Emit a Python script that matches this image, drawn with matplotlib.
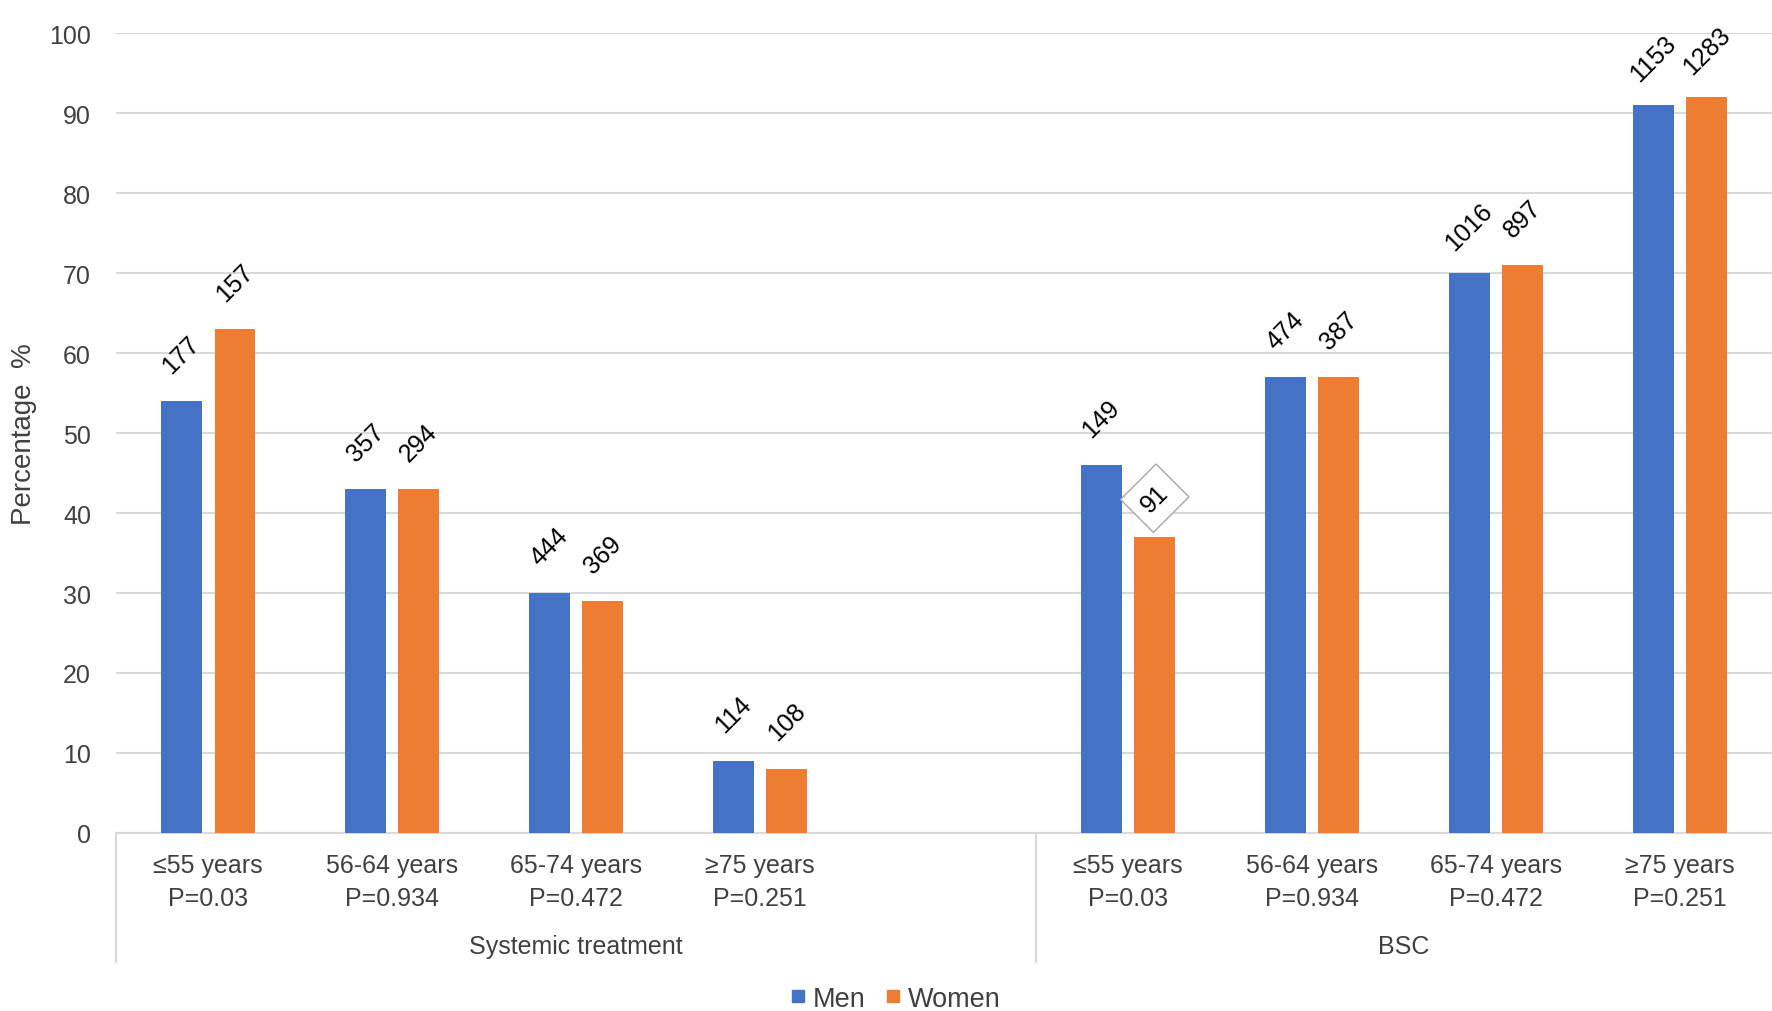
import matplotlib.pyplot as plt
from matplotlib.lines import Line2D
from matplotlib.transforms import blended_transform_factory

plt.rcParams['font.family'] = ['Liberation Sans', 'DejaVu Sans']

# data
age_groups = ["≤55 years", "56-64 years", "65-74 years", "≥75 years"]
p_values = ["P=0.03", "P=0.934", "P=0.472", "P=0.251"]
treatments = ["Systemic treatment", "BSC"]

systemic_men = [54, 43, 30, 9]
systemic_women = [63, 43, 29, 8]
systemic_men_n = [177, 357, 444, 114]
systemic_women_n = [157, 294, 369, 108]

bsc_men = [46, 57, 70, 91]
bsc_women = [37, 57, 71, 92]
bsc_men_n = [149, 474, 1016, 1153]
bsc_women_n = [91, 387, 897, 1283]

blue = "#4472C4"
orange = "#ED7D31"
grid = "#d9d9d9"
txt = "#404040"

fig = plt.figure(figsize=(17.72, 10.12), dpi=100)
ax = fig.add_axes([0.0655, 0.176, 0.9345, 0.790])

# slot positions: 4 systemic, one empty slot, 4 BSC
pos_sys = [0, 1, 2, 3]
pos_bsc = [5, 6, 7, 8]
w = 0.22
off = 0.145

men_vals = systemic_men + bsc_men
women_vals = systemic_women + bsc_women
men_n = systemic_men_n + bsc_men_n
women_n = systemic_women_n + bsc_women_n
positions = pos_sys + pos_bsc

ax.bar([p - off for p in positions], men_vals, width=w, color=blue, zorder=3)
ax.bar([p + off for p in positions], women_vals, width=w, color=orange, zorder=3)

for i, p in enumerate(positions):
    ax.annotate(str(men_n[i]), (p - off, men_vals[i]), xytext=(0, 34),
                textcoords="offset points", rotation=45, ha="center", va="center",
                fontsize=18, color="black")
    if women_n[i] == 91:
        ax.annotate(str(women_n[i]), (p + off, women_vals[i]), xytext=(0, 28),
                    textcoords="offset points", rotation=45, ha="center", va="center",
                    fontsize=18, color="black",
                    bbox=dict(boxstyle="square,pad=0.45", fc="white", ec="#a6a6a6", lw=1))
    else:
        ax.annotate(str(women_n[i]), (p + off, women_vals[i]), xytext=(0, 34),
                    textcoords="offset points", rotation=45, ha="center", va="center",
                    fontsize=18, color="black")

ax.set_xlim(-0.5, 8.5)
ax.set_ylim(0, 100)
ax.set_yticks(range(0, 101, 10))
ax.tick_params(axis="y", length=0, labelsize=18, labelcolor=txt, pad=18)
ax.set_xticks([])
ax.grid(axis="y", color=grid, lw=1.5, zorder=0)
for s in ["top", "right", "left"]:
    ax.spines[s].set_visible(False)
ax.spines["bottom"].set_color(grid)
ax.spines["bottom"].set_linewidth(1.5)

ax.set_ylabel("Percentage  %", fontsize=20, color=txt, labelpad=9)

tr = blended_transform_factory(ax.transData, ax.transAxes)
for i, p in enumerate(positions):
    k = i % 4
    ax.text(p, -0.061, age_groups[k] + "\n" + p_values[k], transform=tr,
            ha="center", va="center", fontsize=18, color=txt, linespacing=1.45)

ax.text(2, -0.141, treatments[0], transform=tr, ha="center", va="center",
        fontsize=18, color=txt)
ax.text(6.5, -0.141, treatments[1], transform=tr, ha="center", va="center",
        fontsize=18, color=txt)

for xv in [-0.5, 4.5]:
    ax.plot([xv, xv], [0, -0.161], transform=tr, color=grid, lw=1.5, clip_on=False)

handles = [Line2D([], [], marker="s", ls="", color=blue, markersize=9),
           Line2D([], [], marker="s", ls="", color=orange, markersize=9)]
fig.legend(handles, ["Men", "Women"], loc="center", bbox_to_anchor=(0.503, 0.012),
           ncol=2, frameon=False, fontsize=19.5, handletextpad=-0.05, columnspacing=0.4,
           handlelength=1.2, labelcolor=txt)

fig.savefig("out.png", dpi=100)
